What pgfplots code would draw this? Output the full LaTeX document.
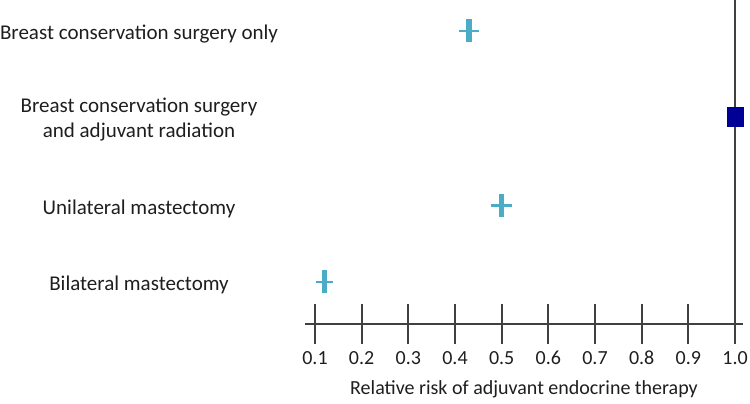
\documentclass[border=0pt]{standalone}
\usepackage{pgfplots}
\pgfplotsset{compat=1.18}
\usepackage{fontspec}
\setmainfont{Carlito}
\definecolor{mk}{RGB}{75,172,198}
\definecolor{sq}{RGB}{0,0,150}
\definecolor{ln}{RGB}{64,64,64}
\definecolor{tx}{RGB}{30,30,30}
\newcommand{\fs}{\fontsize{21}{25}\selectfont}
\newcommand{\fx}{\fontsize{20}{24}\selectfont}
\begin{document}
\begin{tikzpicture}[x=1pt,y=1pt]
\useasboundingbox (0,0) rectangle (750,404);
\begin{axis}[
  at={(305pt,80pt)}, anchor=south west,
  scale only axis, width=438pt, height=324pt,
  xmin=0.0786, xmax=1.0171, ymin=80, ymax=404,
  axis x line*=bottom, axis y line*=left,
  x axis line style={draw=ln, line width=2.2pt, -},
  y axis line style={draw=none},
  xtick={0.1,0.2,0.3,0.4,0.5,0.6,0.7,0.8,0.9,1.0},
  xticklabels={0.1,0.2,0.3,0.4,0.5,0.6,0.7,0.8,0.9,1.0},
  tick align=center, major tick length=40pt,
  x tick style={draw=ln, line width=2.2pt},
  y tick style={draw=none},
  ytick={122,198.5,287.5,373},
  yticklabels={Bilateral mastectomy, Unilateral mastectomy, {Breast conservation surgery\\and adjuvant radiation}, Breast conservation surgery only},
  yticklabel style={font=\fs, align=center, anchor=center, xshift=-146pt, yshift=-3pt, text=tx},
  xticklabel style={font=\fx, text=tx, text height=14pt, text depth=0pt, yshift=-3pt},
  xlabel={Relative risk of adjuvant endocrine therapy},
  xlabel style={font=\fx, text=tx, at={(axis description cs:0.5,0)}, anchor=center, yshift=-65pt},
  clip=false,
]
\addplot[ln, line width=2.2pt] coordinates {(1,80) (1,404)};
\addplot[only marks, mark=|, mark size=11.5pt, mk, mark options={line width=5.5pt},
  error bars/.cd, x dir=both, x explicit, error mark=none,
  error bar style={line width=2.5pt, mk}]
  coordinates {(0.43,373) +- (0.022,0) (0.50,198.5) +- (0.022,0) (0.12,122) +- (0.018,0)};
\addplot[only marks, mark=square*, mark size=8pt, sq,
  mark options={fill=sq, draw=sq, line width=0.4pt, yscale=1.18}]
  coordinates {(1,287.5)};
\end{axis}
\end{tikzpicture}
\end{document}
